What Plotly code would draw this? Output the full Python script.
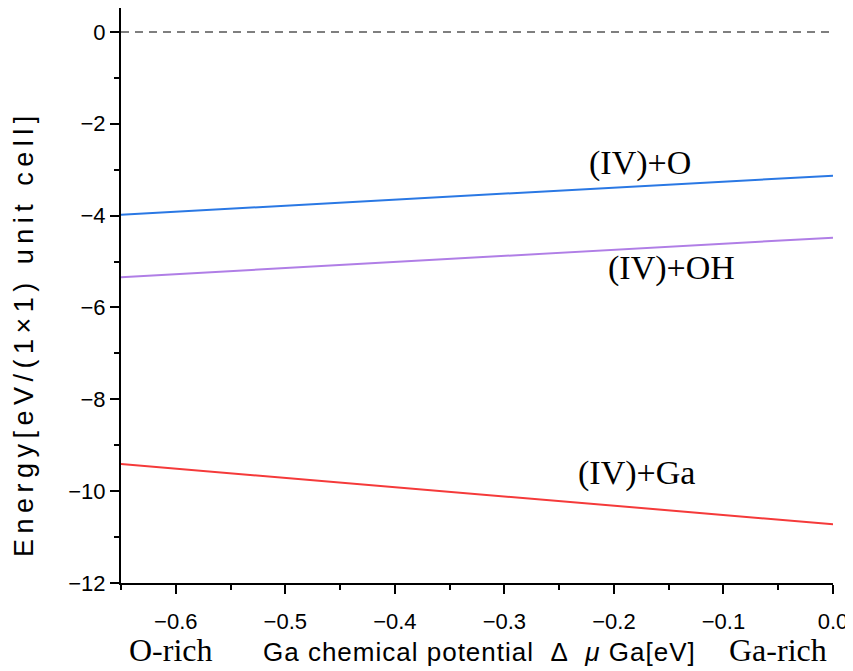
import plotly.graph_objects as go

x_range_pts = [-0.65, 0.0]
e_O = [-3.98, -3.13]
e_OH = [-5.34, -4.48]
e_Ga = [-9.41, -10.72]
zero_line = [0.0, 0.0]

labels = ["(IV)+O", "(IV)+OH", "(IV)+Ga"]
label_x = [-0.176, -0.147, -0.179]
label_y = [-2.85, -5.14, -9.60]

x_ticks = [-0.6, -0.5, -0.4, -0.3, -0.2, -0.1, 0.0]
x_tick_text = ["−0.6", "−0.5", "−0.4", "−0.3", "−0.2", "−0.1", "0.0"]
y_ticks = [0, -2, -4, -6, -8, -10, -12]

fig = go.Figure()
fig.add_trace(go.Scatter(x=x_range_pts, y=zero_line, mode="lines",
                         line=dict(color="#555555", width=1.5, dash="8px,6px"), showlegend=False))
fig.add_trace(go.Scatter(x=x_range_pts, y=e_O, mode="lines",
                         line=dict(color="#2a78e4", width=2), showlegend=False))
fig.add_trace(go.Scatter(x=x_range_pts, y=e_OH, mode="lines",
                         line=dict(color="#b07ee6", width=2), showlegend=False))
fig.add_trace(go.Scatter(x=x_range_pts, y=e_Ga, mode="lines",
                         line=dict(color="#f53a3a", width=2), showlegend=False))

for t, xx, yy in zip(labels, label_x, label_y):
    fig.add_annotation(x=xx, y=yy, text=t, showarrow=False,
                       font=dict(family="Liberation Serif", size=34, color="black"))

rich = dict(family="Liberation Serif", size=32, color="black")
fig.add_annotation(xref="paper", yref="paper", x=0.070, y=-0.117, text="O-rich",
                   showarrow=False, font=rich, xanchor="center", yanchor="middle")
fig.add_annotation(xref="paper", yref="paper", x=0.923, y=-0.117, text="Ga-rich",
                   showarrow=False, font=rich, xanchor="center", yanchor="middle")

fig.add_annotation(xref="paper", yref="paper", x=0.504, y=-0.120,
                   text='<span style="letter-spacing:1px">Ga chemical potential\u00a0\u00a0Δ\u00a0\u00a0<i>μ</i> Ga[eV]</span>',
                   showarrow=False, font=dict(family="Liberation Sans", size=26, color="black"),
                   xanchor="center", yanchor="middle")
fig.add_annotation(xref="paper", yref="paper", x=-0.1362, y=0.433,
                   text='<span style="letter-spacing:5.5px">Energy[eV/(1×1) unit cell]</span>',
                   textangle=-90, showarrow=False,
                   font=dict(family="Liberation Sans", size=27, color="black"),
                   xanchor="center", yanchor="middle")

fig.update_layout(
    width=845, height=663,
    margin=dict(l=113, r=20, t=0, b=88),
    plot_bgcolor="white", paper_bgcolor="white",
    font=dict(family="Liberation Sans", size=22, color="black"),
    xaxis=dict(range=[-0.65, 0.0], tickvals=x_ticks, ticktext=x_tick_text,
               showgrid=False, zeroline=False, showline=True, linecolor="black", linewidth=2,
               ticks="outside", ticklen=9, tickwidth=2, tickcolor="black", ticklabelstandoff=9,
               minor=dict(ticks="outside", ticklen=5, tickwidth=2, tickcolor="black", dtick=0.05, tick0=0)),
    yaxis=dict(range=[-12, 0.52], tickvals=y_ticks,
               showgrid=False, zeroline=False, showline=True, linecolor="black", linewidth=2,
               ticks="outside", ticklen=9, tickwidth=2, tickcolor="black",
               minor=dict(ticks="outside", ticklen=5, tickwidth=2, tickcolor="black", dtick=1, tick0=0)),
)

fig.write_html("out.html")
